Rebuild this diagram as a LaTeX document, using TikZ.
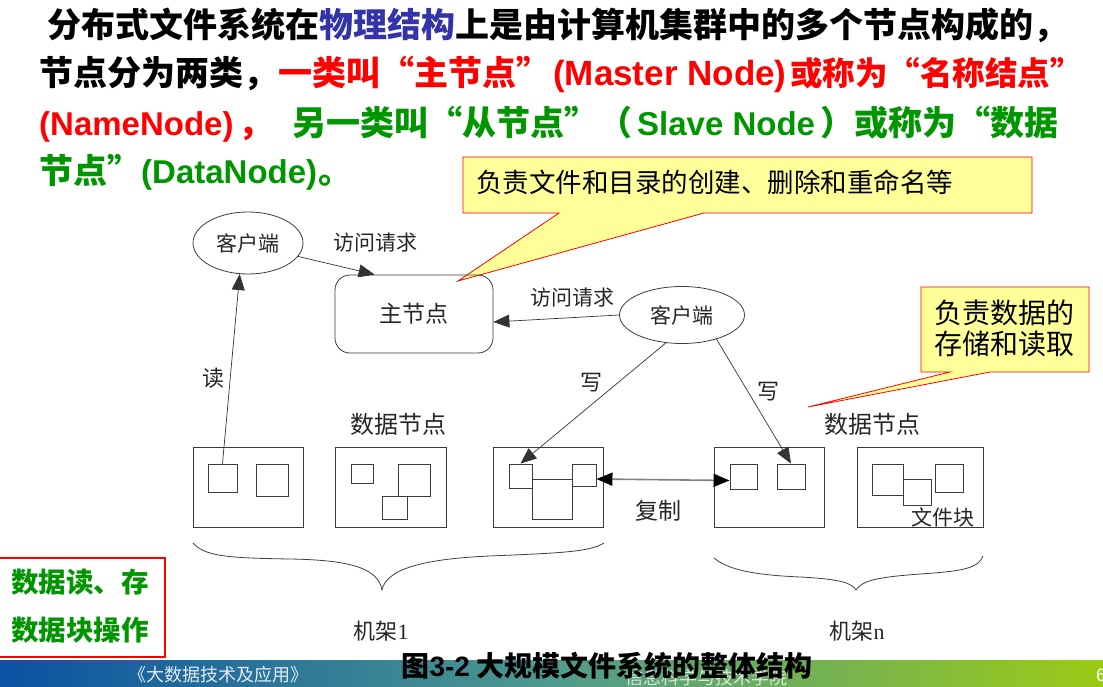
\documentclass[tikz,border=0pt]{standalone}
\usepackage{fontspec}
\setmainfont{Liberation Serif}
\newfontfamily\cjk{Noto Sans CJK SC}
\newfontfamily\lat{Liberation Sans}
\newfontfamily\ser{Liberation Serif}
\usetikzlibrary{arrows.meta,shapes.geometric,calc}
\newcommand\fsz[1]{\fontsize{#1}{#1}\selectfont}

\definecolor{hblue}{RGB}{51,51,170}
\definecolor{hred}{RGB}{255,0,0}
\definecolor{hgreen}{RGB}{0,150,0}
\definecolor{noteyellow}{RGB}{255,255,153}
\definecolor{barL}{RGB}{10,82,163}
\definecolor{barM}{RGB}{78,154,142}
\definecolor{barR}{RGB}{156,203,20}
\definecolor{ink}{RGB}{60,60,60}

\begin{document}
\begin{tikzpicture}[x=1pt,y=-1pt,
  hdr/.style={anchor=base west,inner sep=0,font=\cjk\bfseries\fsz{34}},
  hlat/.style={anchor=base west,inner sep=0,font=\lat\bfseries\fsz{33}},
  lab/.style={inner sep=0,font=\cjk\fsz{21},text=black!85},
  client/.style={ellipse,draw=ink,line width=0.8,inner sep=0,font=\cjk\fsz{21},text=black!85},
  dnode/.style={draw=ink,line width=0.9,minimum height=80,inner sep=0},
  blk/.style={draw=ink,line width=0.9,inner sep=0},
  arr/.style={draw=black!80,line width=0.7,-{Triangle[length=16pt,width=13pt]}},
  brace/.style={draw=black!75,line width=0.8},
  note/.style={fill=noteyellow,draw=red,line width=0.8,line join=miter},
]
\useasboundingbox (0,0) rectangle (1103,687);
\begin{scope}
\clip (0,0) rectangle (1103,687);

% ---------- heading text ----------
\node[hdr] (h1) at (47,38) {分布式文件系统在\textcolor{hblue}{物理结构}上是由计算机集群中的多个节点构成的，};

\node[hdr] (h2a) at (39,86) {节点分为两类，};
\node[hdr,text=hred] (h2b) at (278,86) {一类叫“主节点”};
\node[hlat,text=hred,font=\lat\bfseries\fsz{35}] (h2c) at (553,86) {(Master Node)};
\node[hdr,text=hred,font=\cjk\bfseries\fsz{32.5}] (h2d) at (790,86) {或称为“名称结点”};

\node[hlat,text=hred] (h3a) at (39,136) {(NameNode)};
\node[hdr,text=hred] (h3b) at (238,136) {，};
\node[hdr,text=hgreen] (h3c) at (292,136) {另一类叫“从节点”（};
\node[hlat,text=hgreen] (h3d) at (637,136) {Slave Node};
\node[hdr,text=hgreen] (h3e) at (820,136) {）或称为“数据};

\node[hdr,text=hgreen] (h4a) at (39,184) {节点”};
\node[hlat,text=hgreen] (h4b) at (141,184) {(DataNode)};
\node[hdr,text=hgreen] (h4c) at (318,184) {。};

% ---------- callout notes ----------
\draw[note] (463,157) -- (1032,157) -- (1032,213) -- (704,213) -- (458,281)
  -- (559,213) -- (463,213) -- cycle;
\node[anchor=west,inner sep=0,font=\cjk\fsz{26.5}] (n1) at (476,182)
  {负责文件和目录的创建、删除和重命名等};

\draw[note] (921,287) -- (1089,287) -- (1089,372) -- (990,372) -- (808,407)
  -- (950,372) -- (921,372) -- cycle;
\node[align=center,inner sep=0,font=\cjk\fontsize{28}{31}\selectfont] (n2) at (1004,328)
  {负责数据的\\存储和读取};

% ---------- clients and master ----------
\node[client,minimum width=110,minimum height=62] (cl) at (248,243) {客户端};
\node[client,minimum width=125,minimum height=57] (cr) at (682,315) {客户端};
\node[draw=ink,line width=0.8,rounded corners=15,minimum width=158,minimum height=78,
  font=\cjk\fsz{23},text=black!85] (master) at (414,314) {主节点};

% ---------- data nodes ----------
\node[dnode,minimum width=110] (dn1) at (248,487) {};
\node[dnode,minimum width=111] (dn2) at (390.5,487) {};
\node[dnode,minimum width=110] (dn3) at (548,487) {};
\node[dnode,minimum width=110] (dn4) at (769,487) {};
\node[dnode,minimum width=126] (dn5) at (920,487) {};

% file blocks
\node[blk,minimum width=29,minimum height=28] (a1) at (222.5,478) {};
\node[blk,minimum width=32,minimum height=32] (a2) at (272,480) {};
\node[blk,minimum width=22,minimum height=19] (b1) at (362,473.5) {};
\node[blk,minimum width=32,minimum height=32] (b2) at (414,480) {};
\node[blk,minimum width=25,minimum height=23] (b3) at (394.5,507.5) {};
\node[blk,minimum width=23,minimum height=24] (c1) at (520.5,476) {};
\node[blk,minimum width=24,minimum height=22] (c2) at (584,475) {};
\node[blk,minimum width=40,minimum height=40] (c3) at (552,499) {};
\node[blk,minimum width=27,minimum height=25] (d1) at (743.5,476.5) {};
\node[blk,minimum width=28,minimum height=25] (d2) at (791,476.5) {};
\node[blk,minimum width=31,minimum height=31] (e1) at (887.5,479.5) {};
\node[blk,minimum width=28,minimum height=26] (e2) at (917,492) {};
\node[blk,minimum width=28,minimum height=28] (e3) at (949,478) {};

% ---------- labels ----------
\node[lab] (l1) at (375,243) {访问请求};
\node[lab] (l2) at (572,298) {访问请求};
\node[lab,font=\cjk\fsz{22}] (l3) at (213,378) {读};
\node[lab,font=\cjk\fsz{22}] (l4) at (591,383) {写};
\node[lab,font=\cjk\fsz{22}] (l5) at (768,392) {写};
\node[lab,font=\cjk\fsz{24}] (l6) at (398,424) {数据节点};
\node[lab,font=\cjk\fsz{24}] (l7) at (872,424) {数据节点};
\node[lab,font=\cjk\fsz{23}] (l8) at (658,511) {复制};
\node[lab] (l9) at (943,517) {文件块};
\node[lab,font=\cjk\fsz{22}] (l10) at (381,631) {机架{\ser 1}};
\node[lab,font=\cjk\fsz{22}] (l11) at (857,631) {机架{\ser n}};

% ---------- connectors ----------
\draw[arr] (cl.-15) -- ($(master.north west)+(40,0)$);
\draw[arr] (cr.west) -- ($(master.east)+(0,8)$);
\draw[arr] (cr.-120) -- (c1.north);
\draw[arr] (cr.-35) -- (d2.north);
\draw[arr] (a1.north) -- (cl.-105);
\draw[draw=black!50,line width=1.6,
  {Triangle[length=16pt,width=13pt,color=black]}-{Triangle[length=16pt,width=13pt,color=black]}]
  ($(c2.east)+(0,4)$) -- ($(d1.west)+(0,4)$);

% ---------- rack braces ----------
\draw[brace] (193,543) .. controls (205,556) and (225,558) .. (290,559)
  .. controls (350,560) and (378,568) .. (382,590)
  .. controls (386,570) and (420,559) .. (490,556)
  .. controls (560,553) and (590,552) .. (604,543);
\draw[brace] (714,558) .. controls (728,570) and (755,575) .. (800,577)
  .. controls (840,579) and (852,583) .. (856,590)
  .. controls (862,580) and (880,577) .. (920,574)
  .. controls (965,571) and (978,568) .. (983,556);

% ---------- side note ----------
\node[draw=red,line width=2.5,minimum width=167,minimum height=99,inner sep=0] (side) at (81.5,607.5) {};
\node[inner sep=0,font=\cjk\bfseries\fsz{27.5},text=hgreen] (s1) at (80,582) {数据读、存};
\node[inner sep=0,font=\cjk\bfseries\fsz{27.5},text=hgreen] (s2) at (80,630) {数据块操作};

% ---------- footer bar ----------
\shade[left color=barL,right color=barR,middle color=barM] (0,660) rectangle (1103,687);
\node[inner sep=0,font=\cjk\fsz{18},text={rgb,255:red,225;green,235;blue,245}] (f1) at (218,675) {《大数据技术及应用》};
\node[inner sep=0,font=\cjk\fsz{18},text=white,opacity=0.75] (f2) at (706,678) {信息科学与技术学院};
\node[anchor=west,inner sep=0,font=\lat\fsz{18},text=white] (f3) at (1096,675) {6};

% ---------- caption ----------
\node[anchor=base,inner sep=0,font=\cjk\bfseries\fsz{28}] (cap) at (607,676)
  {图{\lat\bfseries 3-2} 大规模文件系统的整体结构};
\end{scope}
\end{tikzpicture}
\end{document}
